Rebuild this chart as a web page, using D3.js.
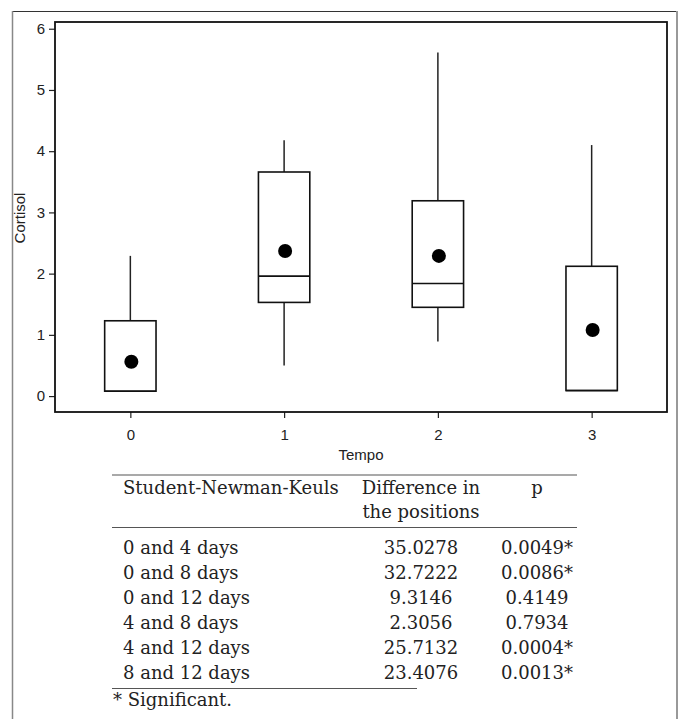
<!DOCTYPE html>
<html>
<head>
<meta charset="utf-8">
<script src="https://cdn.jsdelivr.net/npm/d3@7"></script>
<style>
  body { margin: 0; background: #fff; }
  svg { display: block; }
  .axis-label { font-family: "Liberation Sans", Arial, sans-serif; font-size: 15px; fill: #222; }
  .tbl { font-family: "DejaVu Serif", serif; font-size: 18px; fill: #222; }
</style>
</head>
<body>
<div id="chart"></div>
<script>
/* DATA */
const categories = [0, 1, 2, 3];
const whiskerLow = [0.08, 0.50, 0.89, 0.09];
const q1 = [0.08, 1.53, 1.45, 0.09];
const median = [0.08, 1.96, 1.84, 0.09];
const q3 = [1.23, 3.66, 3.19, 2.12];
const whiskerHigh = [2.29, 4.18, 5.61, 4.10];
const means = [0.56, 2.37, 2.29, 1.08];
const yTicks = [0, 1, 2, 3, 4, 5, 6];

const headerCols = ["Student-Newman-Keuls", "Difference in", "p"];
const headerCols2 = ["", "the positions", ""];
const comparisons = ["0 and 4 days", "0 and 8 days", "0 and 12 days", "4 and 8 days", "4 and 12 days", "8 and 12 days"];
const differences = ["35.0278", "32.7222", "9.3146", "2.3056", "25.7132", "23.4076"];
const pValues = ["0.0049*", "0.0086*", "0.4149", "0.7934", "0.0004*", "0.0013*"];
const footnote = "* Significant.";

/* CONSTANTS */
const width = 681,
  height = 719,
  plot = { left: 55, right: 667, top: 22, bottom: 412 },
  boxHalf = 0.167,
  dotRadius = 7;

const svg = d3.select("#chart").append("svg")
  .attr("width", width)
  .attr("height", height);

// outer frame
svg.append("line").attr("x1", 12).attr("x2", 677).attr("y1", 11.5).attr("y2", 11.5)
  .attr("stroke", "#333").attr("stroke-width", 1);
svg.append("line").attr("x1", 12.5).attr("x2", 12.5).attr("y1", 11).attr("y2", height)
  .attr("stroke", "#888").attr("stroke-width", 1.5);
svg.append("line").attr("x1", 677).attr("x2", 677).attr("y1", 11).attr("y2", height)
  .attr("stroke", "#999").attr("stroke-width", 2);

/* SCALES */
const xScale = d3.scaleLinear()
  .domain([-0.49, 3.49])
  .range([plot.left, plot.right]);

const yScale = d3.scaleLinear()
  .domain([-0.26, 6.11])
  .range([plot.bottom, plot.top]);

/* AXES */
const styleAxis = g => {
  g.select(".domain").remove();
  g.attr("font-family", "'Liberation Sans', Arial, sans-serif").attr("font-size", 15);
  g.selectAll(".tick line").attr("stroke", "#222").attr("stroke-width", 1.2);
  g.selectAll(".tick text").attr("fill", "#222");
};

svg.append("g")
  .attr("transform", `translate(${plot.left},0)`)
  .call(d3.axisLeft(yScale).tickValues(yTicks).tickFormat(d3.format("d")).tickSize(6).tickPadding(4))
  .call(styleAxis);

svg.append("g")
  .attr("transform", `translate(0,${plot.bottom})`)
  .call(d3.axisBottom(xScale).tickValues(categories).tickFormat(d3.format("d")).tickSize(6).tickPadding(11))
  .call(styleAxis);

// plot frame
svg.append("rect")
  .attr("x", plot.left)
  .attr("y", plot.top)
  .attr("width", plot.right - plot.left)
  .attr("height", plot.bottom - plot.top)
  .attr("fill", "none")
  .attr("stroke", "#111")
  .attr("stroke-width", 1.8);

svg.append("text")
  .attr("class", "axis-label")
  .attr("text-anchor", "middle")
  .attr("transform", `translate(25,218) rotate(-90)`)
  .text("Cortisol");

svg.append("text")
  .attr("class", "axis-label")
  .attr("text-anchor", "middle")
  .attr("x", (plot.left + plot.right) / 2)
  .attr("y", 460)
  .text("Tempo");

/* BOXES */
const boxes = categories.map((c, i) => ({
  c, lo: whiskerLow[i], q1: q1[i], med: median[i], q3: q3[i], hi: whiskerHigh[i], mean: means[i]
}));

const g = svg.append("g");

// whiskers
g.selectAll(".whisker-hi")
  .data(boxes)
  .join("line")
  .attr("x1", d => xScale(d.c)).attr("x2", d => xScale(d.c))
  .attr("y1", d => yScale(d.q3)).attr("y2", d => yScale(d.hi))
  .attr("stroke", "#222").attr("stroke-width", 1.5);

g.selectAll(".whisker-lo")
  .data(boxes.filter(d => d.lo < d.q1))
  .join("line")
  .attr("x1", d => xScale(d.c)).attr("x2", d => xScale(d.c))
  .attr("y1", d => yScale(d.q1)).attr("y2", d => yScale(d.lo))
  .attr("stroke", "#222").attr("stroke-width", 1.5);

g.selectAll(".box")
  .data(boxes)
  .join("rect")
  .attr("x", d => xScale(d.c - boxHalf))
  .attr("width", d => xScale(d.c + boxHalf) - xScale(d.c - boxHalf))
  .attr("y", d => yScale(d.q3))
  .attr("height", d => yScale(d.q1) - yScale(d.q3))
  .attr("fill", "none")
  .attr("stroke", "#111")
  .attr("stroke-width", 1.6);

g.selectAll(".median")
  .data(boxes)
  .join("line")
  .attr("x1", d => xScale(d.c - boxHalf)).attr("x2", d => xScale(d.c + boxHalf))
  .attr("y1", d => yScale(d.med)).attr("y2", d => yScale(d.med))
  .attr("stroke", "#111").attr("stroke-width", 1.6);

g.selectAll(".mean")
  .data(boxes)
  .join("circle")
  .attr("cx", d => xScale(d.c) + 1)
  .attr("cy", d => yScale(d.mean))
  .attr("r", dotRadius)
  .attr("fill", "#000");

/* TABLE */
const colX = [123, 421, 537];
const colAnchor = ["start", "middle", "middle"];
const t = svg.append("g");

t.append("line").attr("x1", 112).attr("x2", 577).attr("y1", 475).attr("y2", 475)
  .attr("stroke", "#555").attr("stroke-width", 1.2);
t.append("line").attr("x1", 112).attr("x2", 577).attr("y1", 527.5).attr("y2", 527.5)
  .attr("stroke", "#555").attr("stroke-width", 1.2);
t.append("line").attr("x1", 112).attr("x2", 417).attr("y1", 688.5).attr("y2", 688.5)
  .attr("stroke", "#555").attr("stroke-width", 1.2);

headerCols.forEach((h, i) => {
  t.append("text").attr("class", "tbl").attr("x", colX[i]).attr("y", 494)
    .attr("text-anchor", colAnchor[i]).text(h);
  if (headerCols2[i]) {
    t.append("text").attr("class", "tbl").attr("x", colX[i]).attr("y", 518)
      .attr("text-anchor", colAnchor[i]).text(headerCols2[i]);
  }
});

const rowY = d3.scalePoint().domain(comparisons).range([554, 679]);
comparisons.forEach((c, i) => {
  [c, differences[i], pValues[i]].forEach((v, j) => {
    t.append("text").attr("class", "tbl")
      .attr("x", colX[j]).attr("y", rowY(c))
      .attr("text-anchor", colAnchor[j])
      .text(v);
  });
});

t.append("text").attr("class", "tbl").attr("x", 113).attr("y", 706).text(footnote);
</script>
</body>
</html>
